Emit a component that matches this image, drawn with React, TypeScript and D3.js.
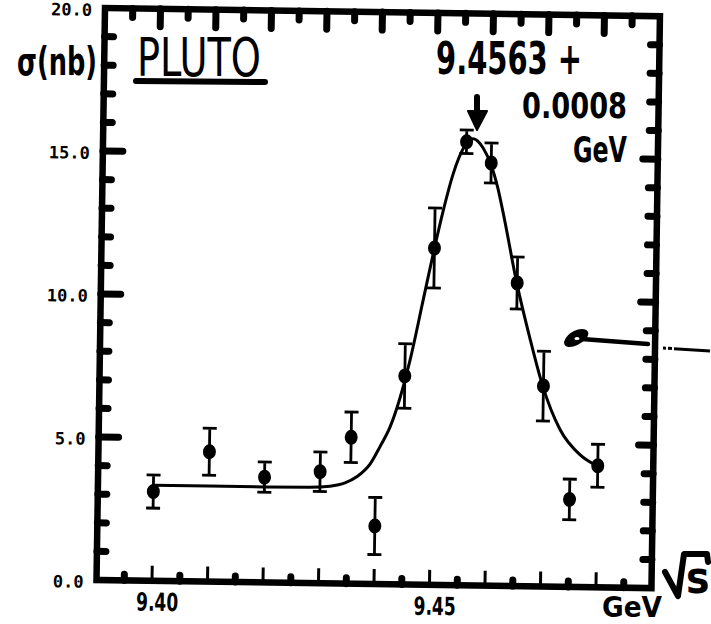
import React from "react";
import * as d3 from "d3";

const W = 711;
const H = 624;

// Measured cross sections: centre-of-mass energy (GeV), sigma (nb), error (nb)
const energies = [9.4, 9.41, 9.42, 9.43, 9.4355, 9.44, 9.445, 9.45, 9.4555, 9.46, 9.465, 9.47, 9.475, 9.48];
const sigmas = [3.12, 4.54, 3.68, 3.9, 5.12, 2.03, 7.29, 11.78, 15.51, 14.78, 10.6, 7.01, 3.06, 4.25];
const errors = [0.58, 0.82, 0.53, 0.69, 0.88, 1.0, 1.13, 1.4, 0.41, 0.7, 0.91, 1.22, 0.71, 0.75];

// Fitted resonance curve (GeV, nb)
const fitEnergies = [
  9.4, 9.41, 9.42, 9.428, 9.4318, 9.4345, 9.4366, 9.439, 9.4407, 9.4425, 9.4459, 9.4481, 9.45,
  9.4515, 9.4532, 9.455, 9.4567, 9.4585, 9.46, 9.4612, 9.4625, 9.4648, 9.4674, 9.4698, 9.4731,
  9.4768, 9.4798,
];
const fitSigmas = [
  3.34, 3.34, 3.34, 3.35, 3.4, 3.52, 3.74, 4.2, 4.8, 5.51, 7.85, 9.95, 11.78, 13.11, 14.4, 15.3,
  15.62, 15.3, 14.7, 13.95, 12.85, 10.7, 8.7, 7.05, 5.5, 4.62, 4.25,
];

const yTickValues = [0, 5, 10, 15, 20];
const yTickLabels = ["0.0", "5.0", "10.0", "15.0", "20.0"];
const xLabelValues = [9.4, 9.45];
const xLabels = ["9.40", "9.45"];

// frame of the plot (before the slight tilt of the sheet)
const PL = 105;
const PR = 660;
const PT = 8;
const PB = 580;
const TILT = 0.85;

const HAND = "'DejaVu Sans Condensed', 'DejaVu Sans', sans-serif";

export default function App() {
  const x = d3.scaleLinear().domain([9.39, 9.49]).range([PL, PR]);
  const y = d3.scaleLinear().domain([0, 20]).range([PB, PT]);

  const fitLine = d3
    .line<number>()
    .x((_, i) => x(fitEnergies[i]))
    .y((d) => y(d))
    .curve(d3.curveMonotoneX);

  // tick positions: every 1 nb on the sigma axes, every 5 MeV on the energy axes
  const sigmaTicks = y.ticks(20).filter((v) => v > 0 && v < 20);
  const energyTicks = x.ticks(20).filter((e) => e > 9.391 && e < 9.489);
  const majorE = (e: number) => Math.round(e * 1000) % 10 === 0;

  const tickPath = d3.path();
  sigmaTicks.forEach((v) => {
    const yy = y(v);
    tickPath.moveTo(PL, yy);
    tickPath.lineTo(PL + (v % 5 === 0 ? 20 : 9), yy);
    tickPath.moveTo(PR, yy);
    tickPath.lineTo(PR - (v % 5 === 0 ? 15 : 9), yy);
  });
  energyTicks.forEach((e) => {
    const xx = x(e);
    tickPath.moveTo(xx, PT);
    tickPath.lineTo(xx, PT + (majorE(e) ? 18 : 9));
    if (!majorE(e)) {
      tickPath.moveTo(xx, PB);
      tickPath.lineTo(xx, PB - 6);
    }
  });
  const thinTicks = d3.path();
  energyTicks.filter(majorE).forEach((e) => {
    thinTicks.moveTo(x(e), PB);
    thinTicks.lineTo(x(e), PB - 15);
  });

  return (
    <svg
      width={W}
      height={H}
      viewBox={`0 0 ${W} ${H}`}
      style={{ position: "absolute", left: 0, top: 0, background: "#fff" }}
    >
      <rect x={0} y={0} width={W} height={H} fill="#fff" />
      <g transform={`rotate(${TILT} ${PL} ${PT})`}>
        {/* frame */}
        <rect
          x={PL}
          y={PT}
          width={PR - PL}
          height={PB - PT}
          fill="none"
          stroke="#000"
          strokeWidth={6.5}
        />
        {/* y tick labels */}
        {yTickValues.map((v, i) => (
          <text
            key={`yl${v}`}
            x={PL - 13}
            y={y(v) + 8}
            textAnchor="end"
            fontFamily="'DejaVu Sans Mono', monospace"
            fontWeight="bold"
            fontSize={17}
            fill="#000"
          >
            {yTickLabels[i]}
          </text>
        ))}
        {/* x tick labels */}
        {xLabelValues.map((v, i) => (
          <text
            key={`xl${v}`}
            x={x(v) + 5.5}
            y={PB + 30}
            textAnchor="middle"
            fontFamily={HAND}
            fontWeight="bold"
            fontSize={25}
            textLength={42}
            lengthAdjust="spacingAndGlyphs"
            fill="#000"
          >
            {xLabels[i]}
          </text>
        ))}
        {/* fit curve */}
        <path d={fitLine(fitSigmas) ?? ""} fill="none" stroke="#000" strokeWidth={3} />
        {/* data with error bars */}
        {energies.map((e, i) => {
          const cx = x(e);
          const top = y(sigmas[i] + errors[i]);
          const bot = y(sigmas[i] - errors[i]);
          return (
            <g key={`p${i}`}>
              <path
                d={`M${cx},${top}V${bot}M${cx - 7},${top}H${cx + 7}M${cx - 7},${bot}H${cx + 7}`}
                fill="none"
                stroke="#000"
                strokeWidth={2.8}
              />
              <ellipse cx={cx} cy={y(sigmas[i])} rx={6.5} ry={7.5} fill="#000" />
            </g>
          );
        })}
      </g>

      {/* axis ticks, pointing into the frame */}
      <g transform={`rotate(${TILT} ${PL} ${PT})`}>
        <path
          d={tickPath.toString()}
          fill="none"
          stroke="#000"
          strokeWidth={7}
          strokeLinecap="round"
        />
        <path d={thinTicks.toString()} fill="none" stroke="#000" strokeWidth={3} />
      </g>

      {/* axis titles and annotations */}
      <text
        x={17}
        y={75}
        fontFamily={HAND}
        fontWeight="bold"
        fontSize={39}
        textLength={80}
        lengthAdjust="spacingAndGlyphs"
        fill="#000"
      >
        σ(nb)
      </text>
      <text
        x={137}
        y={76}
        fontFamily="'DejaVu Sans', sans-serif"
        fontSize={54}
        textLength={124}
        lengthAdjust="spacingAndGlyphs"
        fill="#000"
      >
        PLUTO
      </text>
      <line x1={136} y1={81} x2={265} y2={82} stroke="#000" strokeWidth={6} strokeLinecap="round" />

      <text
        x={436}
        y={74}
        fontFamily={HAND}
        fontWeight="bold"
        fontSize={44}
        textLength={146}
        lengthAdjust="spacingAndGlyphs"
        fill="#000"
      >
        9.4563 +
      </text>
      <text
        x={522}
        y={118}
        fontFamily={HAND}
        fontWeight="bold"
        fontSize={36}
        textLength={105}
        lengthAdjust="spacingAndGlyphs"
        fill="#000"
      >
        0.0008
      </text>
      <text
        x={573}
        y={162}
        fontFamily={HAND}
        fontWeight="bold"
        fontSize={35}
        textLength={54}
        lengthAdjust="spacingAndGlyphs"
        fill="#000"
      >
        GeV
      </text>

      {/* arrow marking the peak position */}
      <line x1={477} y1={97} x2={477} y2={114} stroke="#000" strokeWidth={6} strokeLinecap="round" />
      <path d="M468,111 L487,111 L477,130 Z" fill="#000" stroke="#000" strokeWidth={2} strokeLinejoin="round" />

      {/* arrow pointing at the curve */}
      <path
        d="M565,342 C568,333 580,328 586,331 C590,334 584,341 577,344 C571,347 565,347 565,342 Z"
        fill="#000"
        stroke="#000"
        strokeWidth={2}
        strokeLinejoin="round"
      />
      <ellipse cx={577} cy={338.5} rx={2.6} ry={1.5} fill="#fff" />
      <path d="M582,339 L648,344" fill="none" stroke="#000" strokeWidth={4.5} strokeLinecap="round" />
      <path
        d="M663,348 L710,351"
        fill="none"
        stroke="#000"
        strokeWidth={3}
        strokeDasharray="3 2 4 2 40"
      />

      {/* energy axis title */}
      <path
        d="M665,572 L678,596 L684,554 L707,554 L708,562"
        fill="none"
        stroke="#000"
        strokeWidth={6}
        strokeLinejoin="round"
        strokeLinecap="round"
      />
      <text x={686} y={593} fontFamily={HAND} fontWeight="bold" fontSize={44} fill="#000">
        s
      </text>
      <text
        x={602}
        y={617}
        fontFamily={HAND}
        fontWeight="bold"
        fontSize={28}
        textLength={60}
        lengthAdjust="spacingAndGlyphs"
        fill="#000"
      >
        GeV
      </text>
    </svg>
  );
}
